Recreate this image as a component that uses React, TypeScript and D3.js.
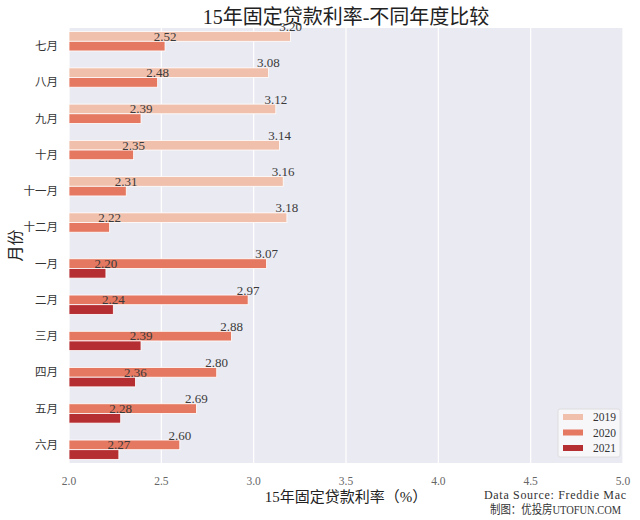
import * as d3 from 'd3';

const months = ['七月', '八月', '九月', '十月', '十一月', '十二月', '一月', '二月', '三月', '四月', '五月', '六月'];
const years = ['2019', '2020', '2021'];
const rate2019 = [3.20, 3.08, 3.12, 3.14, 3.16, 3.18, null, null, null, null, null, null];
const rate2020 = [2.52, 2.48, 2.39, 2.35, 2.31, 2.22, 3.07, 2.97, 2.88, 2.80, 2.69, 2.60];
const rate2021 = [null, null, null, null, null, null, 2.20, 2.24, 2.39, 2.36, 2.28, 2.27];
const xTicks = [2.0, 2.5, 3.0, 3.5, 4.0, 4.5, 5.0];
const colors = ['#f1c0ac', '#e57860', '#b52e32'];

const W = 640, H = 520;
const m = { top: 28, right: 17, bottom: 57, left: 69 };
const serif = '"Liberation Serif", "DejaVu Serif", "Noto Sans CJK SC", serif';
const cjk = '"Noto Sans CJK SC", sans-serif';

export default function App() {
  const series = [rate2019, rate2020, rate2021];
  const x = d3.scaleLinear().domain([2.0, 5.0]).range([m.left, W - m.right]);
  const y = d3.scaleBand().domain(months).range([m.top, H - m.bottom]).paddingInner(0.2).paddingOuter(0.1);
  const yOuter = d3.scaleBand().domain(months).range([m.top, H - m.bottom]);
  const hue = d3.scaleBand().domain(years).range([0, y.bandwidth()]);
  const cx = (m.left + W - m.right) / 2;

  return (
    <svg width={W} height={H} style={{ position: 'absolute', left: 0, top: 0, background: '#fff' }}>
      <rect x={m.left} y={m.top} width={W - m.left - m.right} height={H - m.top - m.bottom} fill="#eaeaf2" />
      {xTicks.map(t => (
        <line key={t} x1={x(t)} x2={x(t)} y1={m.top} y2={H - m.bottom} stroke="#fff" strokeWidth={1.2} />
      ))}
      {series.map((vals, si) =>
        vals.map((v, i) => v == null ? null : (
          <rect key={`${si}-${i}`} x={x(2.0)} y={(y(months[i]) ?? 0) + (hue(years[si]) ?? 0)}
            width={x(v) - x(2.0)} height={hue.bandwidth()} fill={colors[si]} stroke="#fff" strokeWidth={0.8} />
        ))
      )}
      {series.map((vals, si) =>
        vals.map((v, i) => v == null ? null : (
          <text key={`l${si}-${i}`} x={x(v)} y={(y(months[i]) ?? 0) + (hue(years[si]) ?? 0) - 0.5}
            textAnchor="middle" fontFamily={serif} fontSize={13} fill="#3a3a3a">{v.toFixed(2)}</text>
        ))
      )}
      {months.map(mo => (
        <text key={mo} x={m.left - 11} y={(yOuter(mo) ?? 0) + yOuter.bandwidth() / 2} dy="0.35em"
          textAnchor="end" fontFamily={cjk} fontSize={11.5} fill="#333">{mo}</text>
      ))}
      {xTicks.map(t => (
        <text key={`t${t}`} x={x(t)} y={H - m.bottom + 18} dy="0.35em" textAnchor="middle"
          fontFamily={serif} fontSize={11.5} fill="#666">{t.toFixed(1)}</text>
      ))}
      <text x={cx} y={17} dy="0.35em" textAnchor="middle" fontFamily={serif} fontSize={20} fill="#222">
        15年固定贷款利率-不同年度比较
      </text>
      <text x={cx} y={497} dy="0.35em" textAnchor="middle" fontFamily={serif} fontSize={15} fill="#222">
        15年固定贷款利率（%）
      </text>
      <text transform={`translate(15,${(m.top + H - m.bottom) / 2}) rotate(-90)`} dy="0.35em" textAnchor="middle"
        fontFamily={cjk} fontSize={16} fill="#222">月份</text>
      <text x={484} y={495} dy="0.35em" textLength={142} lengthAdjust="spacing" fontFamily={serif} fontSize={12} fill="#333">
        Data Source: Freddie Mac
      </text>
      <text x={490} y={510} dy="0.35em" textLength={131} lengthAdjust="spacingAndGlyphs" fontFamily={serif} fontSize={12} fill="#333">
        制图：优投房UTOFUN.COM
      </text>
      <g transform="translate(558,409)">
        <rect width={62} height={48} rx={2} fill="#fff" fillOpacity={0.6} stroke="#d8d8d8" strokeWidth={0.8} />
        {years.map((yr, i) => (
          <g key={yr} transform={`translate(5,${8 + i * 15.5})`}>
            <rect width={20} height={6} y={-3} fill={colors[i]} />
            <text x={30} dy="0.35em" fontFamily={serif} fontSize={11.5} fill="#333">{yr}</text>
          </g>
        ))}
      </g>
    </svg>
  );
}
